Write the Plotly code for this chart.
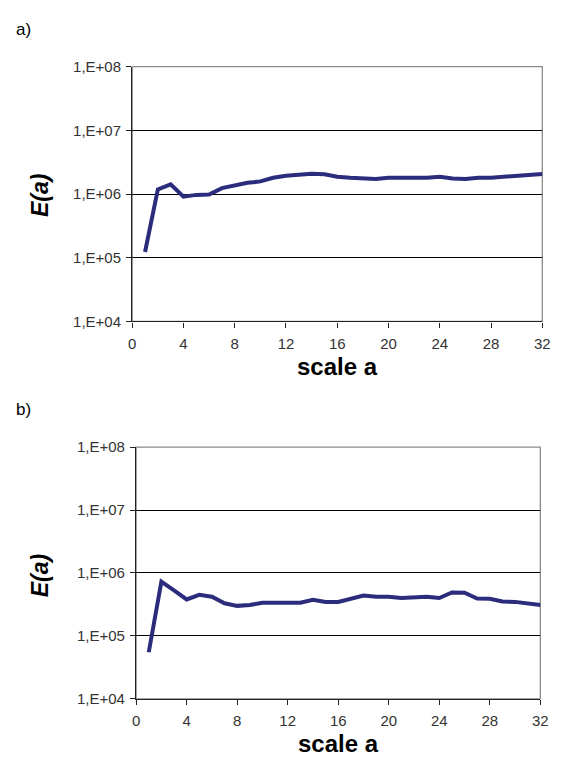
import plotly.graph_objects as go
from plotly.subplots import make_subplots

# scale index a = 1..32
scale = list(range(1, 33))

# E(a) for panel a)
energy_a = [1.23e5, 1.18e6, 1.42e6, 9.1e5, 9.7e5, 9.8e5, 1.24e6, 1.38e6,
            1.50e6, 1.58e6, 1.80e6, 1.94e6, 2.00e6, 2.08e6, 2.04e6, 1.87e6,
            1.80e6, 1.78e6, 1.72e6, 1.80e6, 1.80e6, 1.80e6, 1.80e6, 1.87e6,
            1.75e6, 1.72e6, 1.80e6, 1.80e6, 1.87e6, 1.90e6, 2.00e6, 2.07e6]

# E(a) for panel b)
energy_b = [5.5e4, 7.3e5, 5.3e5, 3.8e5, 4.5e5, 4.2e5, 3.3e5, 3.0e5,
            3.1e5, 3.36e5, 3.36e5, 3.36e5, 3.36e5, 3.74e5, 3.47e5, 3.47e5,
            3.88e5, 4.37e5, 4.2e5, 4.2e5, 4.0e5, 4.05e5, 4.2e5, 4.0e5,
            4.9e5, 4.85e5, 3.93e5, 3.88e5, 3.52e5, 3.47e5, 3.24e5, 3.1e5]

x_ticks = [0, 4, 8, 12, 16, 20, 24, 28, 32]
y_ticks = [1e4, 1e5, 1e6, 1e7, 1e8]
y_tick_text = ["1,E+04", "1,E+05", "1,E+06", "1,E+07", "1,E+08"]
panel_labels = ["a)", "b)"]

W, H = 564, 766
LINE = "#2B2C7C"
FONT = "Liberation Sans, Arial, sans-serif"


def px(x):
    return x / W


def py(y):
    return 1 - y / H


fig = make_subplots(rows=2, cols=1)

# plot areas in pixels: (left, right, top, bottom)
areas = [(131, 550, 59, 319.5), (135, 548, 448, 705.5)]
title_y = [366, 751]
ylabel_y = [191, 580]
panel_y = [9, 398]

for i, (vals, (l, r, t, b)) in enumerate(zip([energy_a, energy_b], areas), start=1):
    fig.add_trace(go.Scatter(x=scale, y=vals, mode="lines",
                             line=dict(color=LINE, width=4),
                             showlegend=False), row=i, col=1)
    fig.update_xaxes(row=i, col=1, domain=[px(l), px(r)], range=[0, 32],
                     tickvals=x_ticks, ticks="outside", ticklen=5,
                     tickcolor="#222", showline=True, linecolor="#222",
                     linewidth=1.3, showgrid=False, zeroline=False,
                     ticklabelstandoff=3,
                     tickfont=dict(family=FONT, size=15, color="#333"))
    fig.update_yaxes(row=i, col=1, domain=[py(b), py(t)], type="log",
                     range=[4, 8], tickvals=y_ticks, ticktext=y_tick_text,
                     ticks="outside", ticklen=5, tickcolor="#222",
                     showline=True, linecolor="#222", linewidth=1.3,
                     showgrid=True, gridcolor="#000", gridwidth=1,
                     zeroline=False, ticklabelstandoff=2,
                     tickfont=dict(family=FONT, size=15, color="#333"))
    ax = "" if i == 1 else str(i)
    # gray plot-area frame (top and right edges)
    fig.add_shape(type="rect", xref=f"x{ax} domain", yref=f"y{ax} domain",
                  x0=0, x1=1, y0=0, y1=1, line=dict(color="#8a8a8a", width=1.3),
                  layer="below")
    # axis titles
    fig.add_annotation(text="<b>scale a</b>", xref="paper", yref="paper",
                       x=px((l + r) / 2), y=py(title_y[i - 1]),
                       xanchor="center", yanchor="middle", showarrow=False,
                       font=dict(family=FONT, size=24, color="#000"))
    fig.add_annotation(text="<b><i>E(a)</i></b>", xref="paper", yref="paper",
                       x=px(37), y=py(ylabel_y[i - 1]), textangle=-90,
                       xanchor="center", yanchor="middle", showarrow=False,
                       font=dict(family=FONT, size=23, color="#000"))
    # panel label
    fig.add_annotation(text=panel_labels[i - 1], xref="paper", yref="paper",
                       x=px(10), y=py(panel_y[i - 1]),
                       xanchor="left", yanchor="top", showarrow=False,
                       font=dict(family=FONT, size=17, color="#000"))

fig.update_layout(width=W, height=H, margin=dict(l=0, r=0, t=0, b=0),
                  paper_bgcolor="white", plot_bgcolor="white")

fig.write_html("out.html")
